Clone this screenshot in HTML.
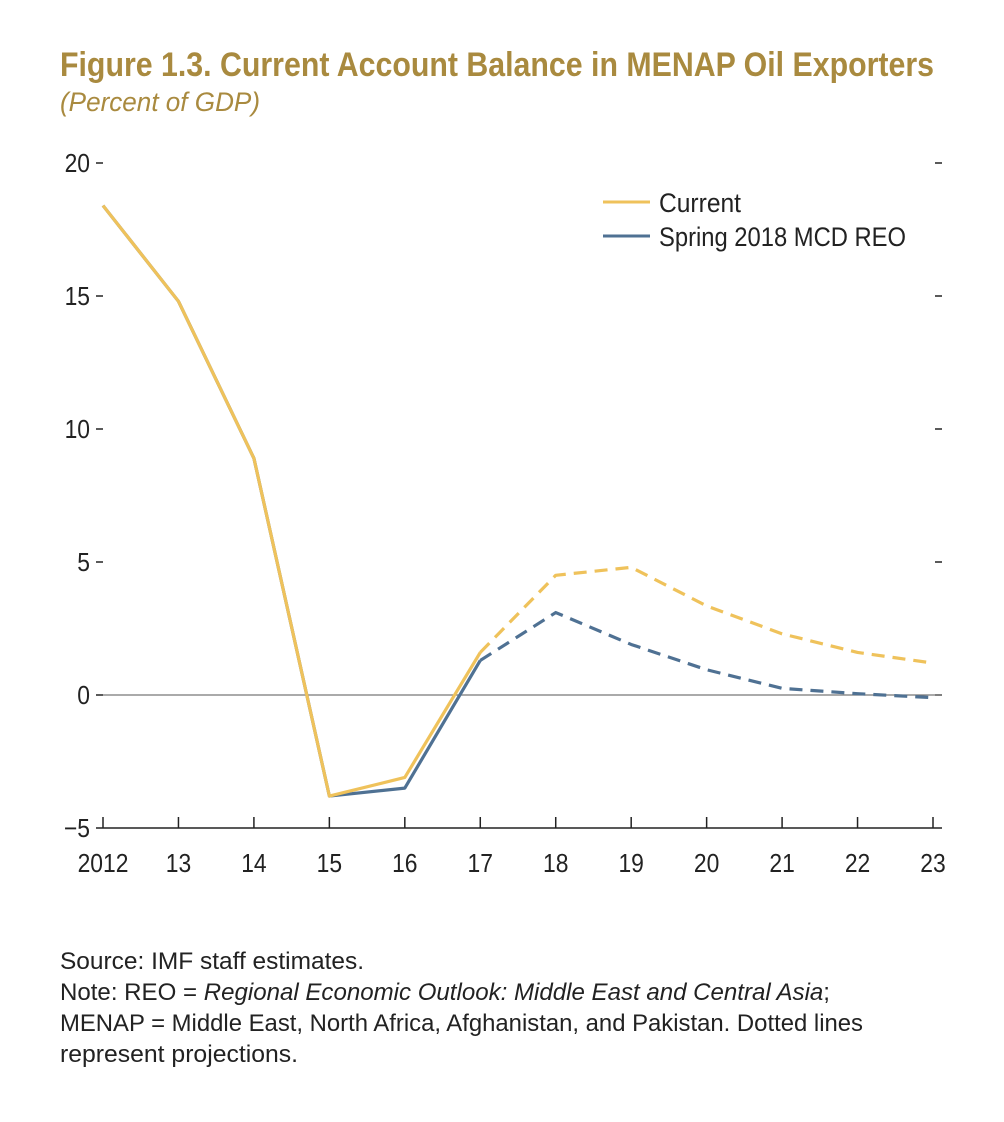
<!DOCTYPE html>
<html><head><meta charset="utf-8"><style>
html,body{margin:0;padding:0;background:#fff;}
svg{display:block;font-family:"Liberation Sans",sans-serif;}
</style></head><body>
<svg id="chart" width="1004" height="1122" viewBox="0 0 1004 1122" xmlns="http://www.w3.org/2000/svg">
<text x="60" y="76" font-size="34" font-weight="bold" fill="#a98a3f" textLength="874" lengthAdjust="spacingAndGlyphs">Figure 1.3. Current Account Balance in MENAP Oil Exporters</text>
<text x="60" y="111" font-size="27" font-style="italic" fill="#a98a3f" textLength="200" lengthAdjust="spacingAndGlyphs">(Percent of GDP)</text>
<g id="axes"></g>
<g id="series"></g>
<g>
<line x1="603" y1="202" x2="650" y2="202" stroke="#efc25b" stroke-width="3"/>
<text x="659" y="212" font-size="27" fill="#222" textLength="82" lengthAdjust="spacingAndGlyphs">Current</text>
<line x1="603" y1="236" x2="650" y2="236" stroke="#4f7193" stroke-width="3"/>
<text x="659" y="246" font-size="27" fill="#222" textLength="247" lengthAdjust="spacingAndGlyphs">Spring 2018 MCD REO</text>
</g>
<g font-size="24" fill="#222">
<text x="60" y="969" textLength="304" lengthAdjust="spacingAndGlyphs">Source: IMF staff estimates.</text>
<text x="60" y="1000" textLength="770" lengthAdjust="spacingAndGlyphs">Note: REO = <tspan font-style="italic">Regional Economic Outlook: Middle East and Central Asia</tspan>;</text>
<text x="60" y="1031" textLength="803" lengthAdjust="spacingAndGlyphs">MENAP = Middle East, North Africa, Afghanistan, and Pakistan. Dotted lines</text>
<text x="60" y="1062" textLength="238" lengthAdjust="spacingAndGlyphs">represent projections.</text>
</g>
</svg>
<script>
const years = ["2012","13","14","15","16","17","18","19","20","21","22","23"];
const currentValues = [18.4,14.8,8.9,-3.8,-3.1,1.6,4.5,4.8,3.35,2.3,1.6,1.2];
const springValues = [18.4,14.8,8.9,-3.8,-3.5,1.3,3.1,1.9,0.95,0.25,0.05,-0.1];
const yTicks = [20,15,10,5,0,-5];
const projectionStart = 5;

const NS = "http://www.w3.org/2000/svg";
const x = i => 103 + i * (933 - 103) / 11;
const y = v => 695 - v * 26.6;
function mk(tag, attrs, parent){const e=document.createElementNS(NS,tag);for(const k in attrs)e.setAttribute(k,attrs[k]);parent.appendChild(e);return e;}
const axes = document.getElementById('axes');
const series = document.getElementById('series');

yTicks.forEach(v => {
  const t = mk('text',{x:90,y:y(v)+9,'font-size':26,'text-anchor':'end',fill:'#222',transform:'translate(90,0) scale(0.88,1) translate(-90,0)'},axes);
  
  
  t.textContent = v < 0 ? '\u2212' + Math.abs(v) : String(v);
  if (v !== -5) {
    const l = mk('line',{x1:96,x2:103,y1:y(v),y2:y(v),stroke:'#222','stroke-width':1.5},axes);
    
    
    const r = mk('line',{x1:935,x2:942,y1:y(v),y2:y(v),stroke:'#222','stroke-width':1.5},axes);
    
    
  }
});
const zero = mk('line',{x1:103,x2:942,y1:y(0),y2:y(0),stroke:'#777','stroke-width':1.2},axes);


const xa = mk('line',{x1:96,x2:942,y1:y(-5),y2:y(-5),stroke:'#222','stroke-width':1.5},axes);


years.forEach((yr,i) => {
  const tk = mk('line',{x1:x(i),x2:x(i),y1:y(-5),y2:y(-5)-11,stroke:'#222','stroke-width':1.5},axes);
  
  
  const t = mk('text',{x:x(i),y:y(-5)+44,'font-size':26,'text-anchor':'middle',fill:'#222',transform:'translate('+x(i)+',0) scale(0.88,1) translate('+(-x(i))+',0)'},axes);
  
  
  t.textContent = yr;
});

function drawSeries(vals, color, name){
  const pts = vals.map((v,i)=>x(i)+','+y(v));
  const solid = mk('polyline',{points:pts.slice(0,projectionStart+1).join(' '),fill:'none',stroke:color,'stroke-width':3.2,'stroke-linejoin':'round'},series);
  
  
  const dash = mk('polyline',{points:pts.slice(projectionStart).join(' '),fill:'none',stroke:color,'stroke-width':3.2,'stroke-dasharray':'13 8','stroke-linejoin':'round'},series);
  
  
}
drawSeries(springValues,'#4f7193','spring');
drawSeries(currentValues,'#efc25b','current');
</script>
</body></html>
